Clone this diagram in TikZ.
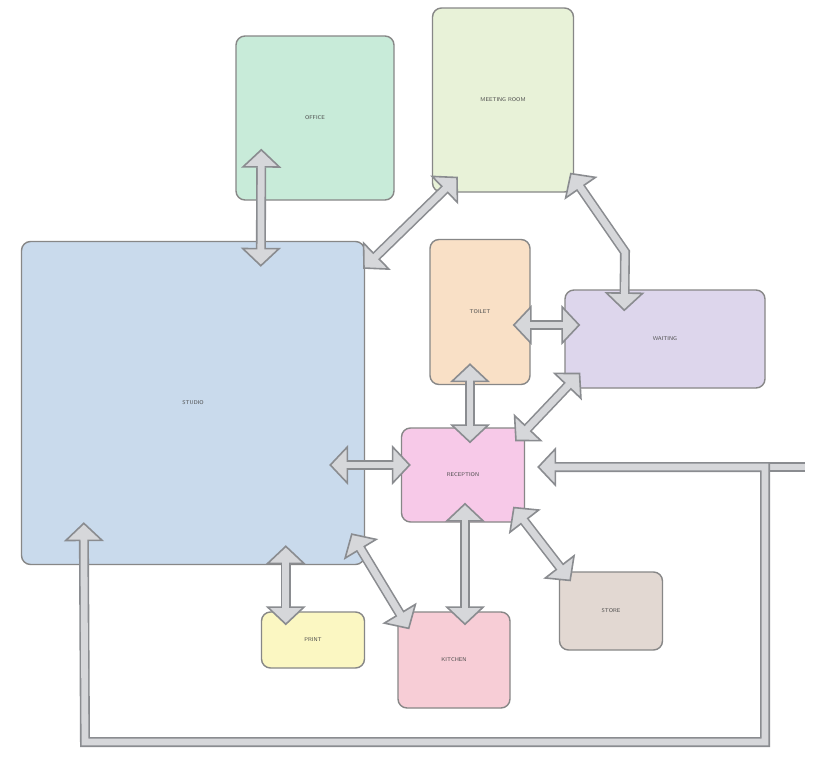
\documentclass[tikz,border=0pt]{standalone}
\usetikzlibrary{arrows.meta,calc}
\definecolor{cOffice}{HTML}{C8EBD9}
\definecolor{cMeet}{HTML}{E8F2D8}
\definecolor{cStudio}{HTML}{C9DAEC}
\definecolor{cToilet}{HTML}{F9E0C6}
\definecolor{cWait}{HTML}{DDD6EC}
\definecolor{cRecep}{HTML}{F7C9E8}
\definecolor{cPrint}{HTML}{FBF7C2}
\definecolor{cKitch}{HTML}{F7CDD6}
\definecolor{cStore}{HTML}{E2D8D2}
\definecolor{linkDark}{HTML}{8A8C90}
\definecolor{linkLight}{HTML}{D6D7DA}
\tikzset{
  room/.style={draw=gray!65!black!70, line width=1.4pt, rounded corners=9pt, inner sep=0pt,
    font=\sffamily\fontsize{5.5}{6}\selectfont, text=gray!60!black},
  link/.style={draw=linkDark, line width=10pt, line join=miter,
    arrows={Triangle[open,fill=linkLight,length=19pt,width=40pt,line width=1.6pt]-Triangle[open,fill=linkLight,length=19pt,width=40pt,line width=1.6pt]},
    postaction={draw=linkLight, line width=6.8pt, line join=miter, arrows=-, shorten >=15pt, shorten <=15pt}},
  plainlink/.style={draw=linkDark, line width=10pt, postaction={draw=linkLight, line width=6.8pt}}
}
\begin{document}
\begin{tikzpicture}[x=1pt,y=-1pt]
\useasboundingbox[fill=white] (0,0) rectangle (825,763);
% rooms
\node[room, fill=cOffice, minimum width=158pt, minimum height=164pt] (office) at (315,118) {OFFICE};
\node[room, fill=cMeet, minimum width=141pt, minimum height=184pt] (meet) at (503,100) {MEETING ROOM};
\node[room, fill=cStudio, minimum width=343pt, minimum height=323pt] (studio) at (193,403) {STUDIO};
\node[room, fill=cToilet, minimum width=100pt, minimum height=145pt] (toilet) at (480,312) {TOILET};
\node[room, fill=cWait, minimum width=200pt, minimum height=98pt] (wait) at (665,339) {WAITING};
\node[room, fill=cRecep, minimum width=123pt, minimum height=94pt] (recep) at (463,475) {RECEPTION};
\node[room, fill=cPrint, minimum width=103pt, minimum height=56pt] (print) at (313,640) {PRINT};
\node[room, fill=cKitch, minimum width=112pt, minimum height=96pt] (kitch) at (454,660) {KITCHEN};
\node[room, fill=cStore, minimum width=103pt, minimum height=78pt] (store) at (611,611) {STORE};
% connectors
\draw[link] ([xshift=26pt,yshift=52pt]office.south west) -- ([xshift=240pt,yshift=-26pt]studio.north west);
\draw[link] ([xshift=26pt,yshift=16pt]meet.south west) -- ([xshift=-2pt,yshift=-28pt]studio.north east);
\draw[link] ([xshift=-4pt,yshift=20pt]meet.south east) -- (625,252) -- ([xshift=60pt,yshift=-22pt]wait.north west);
\draw[link] ([xshift=-18pt]toilet.east |- 0,325) -- ([xshift=16pt]wait.west |- 0,325);
\draw[link] ([xshift=-10pt,yshift=22pt]toilet.south) -- ([xshift=7pt,yshift=-16pt]recep.north);
\draw[link] ([xshift=16pt,yshift=16pt]wait.south west) -- ([xshift=-10pt,yshift=-14pt]recep.north east);
\draw[link] ([xshift=-36pt]studio.east |- 0,465) -- ([xshift=10pt]recep.west |- 0,465);
\coordinate (c1) at (765,467);
\coordinate (c2) at (765,742);
\coordinate (c3) at (85,742);
\coordinate (stub) at (805,467);
\draw[plainlink] (c1) -- (stub);
\draw[link] ([xshift=12pt]recep.east |- c1) -- (c1) -- (c2) -- (c3) -- ([xshift=63pt,yshift=43pt]studio.south west);
\draw[link] ([xshift=2pt,yshift=20pt]recep.south) -- ([xshift=11pt,yshift=-14pt]kitch.north);
\draw[link] ([xshift=-12pt,yshift=16pt]recep.south east) -- ([xshift=12pt,yshift=-10pt]store.north west);
\draw[link] ([xshift=-14pt,yshift=32pt]studio.south east) -- ([xshift=12pt,yshift=-18pt]kitch.north west);
\draw[link] ([xshift=265pt,yshift=20pt]studio.south west) -- ([xshift=25pt,yshift=-14pt]print.north west);
\end{tikzpicture}
\end{document}
